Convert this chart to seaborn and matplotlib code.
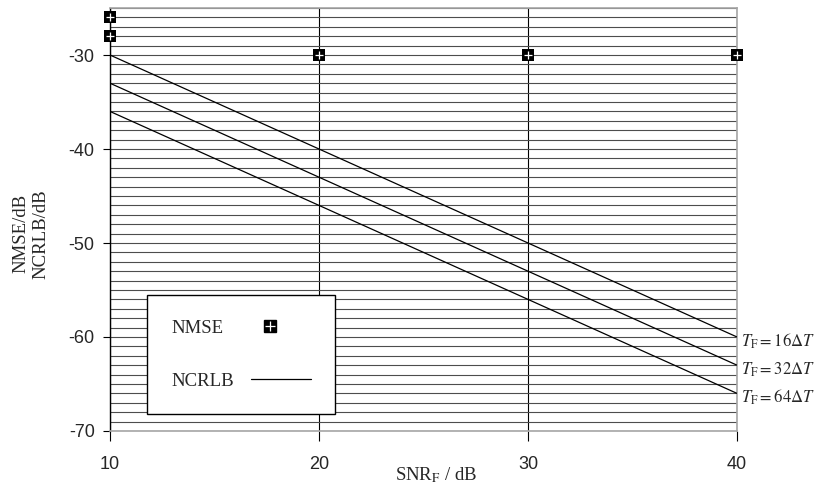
import matplotlib
matplotlib.use("Agg")
import matplotlib.pyplot as plt
import seaborn as sns
import pandas as pd
from matplotlib.lines import Line2D
from matplotlib.legend_handler import HandlerTuple

# SNR axis (dB)
snr_db = [10, 20, 30, 40]
# NCRLB curves for the three frame lengths
ncrlb_16 = [-30, -40, -50, -60]
ncrlb_32 = [-33, -43, -53, -63]
ncrlb_64 = [-36, -46, -56, -66]
frame_labels = [r"$T_{\rm F}=16\Delta T$", r"$T_{\rm F}=32\Delta T$", r"$T_{\rm F}=64\Delta T$"]
# NMSE points
nmse_snr = [10, 10, 20, 30, 40]
nmse_db = [-26, -28, -30, -30, -30]

sns.set_theme(style="ticks")
plt.rcParams["font.family"] = ["Liberation Sans", "DejaVu Sans"]
plt.rcParams["mathtext.fontset"] = "stix"
plt.rcParams["axes.unicode_minus"] = False

serif = ["Liberation Serif", "DejaVu Serif"]

ncrlb_df = pd.DataFrame({
    "snr": snr_db * 3,
    "ncrlb": ncrlb_16 + ncrlb_32 + ncrlb_64,
    "frame": [frame_labels[0]] * 4 + [frame_labels[1]] * 4 + [frame_labels[2]] * 4,
})

fig = plt.figure(figsize=(8.19, 4.86), dpi=100)
ax = fig.add_axes([0.1343, 0.1132, 0.7656, 0.8703])

# grid: every 1 dB horizontally, every 10 dB vertically
ax.set_xlim(10, 40)
ax.set_ylim(-70, -25)
ax.set_xticks(snr_db)
ax.set_yticks(range(-70, -29, 10))
ax.set_yticks(range(-70, -24), minor=True)
ax.grid(axis="y", which="both", color="0.3", lw=0.8)
ax.grid(axis="x", which="major", color="black", lw=0.8)
ax.set_axisbelow(True)

sns.lineplot(data=ncrlb_df, x="snr", y="ncrlb", units="frame", estimator=None,
             color="black", lw=0.9, ax=ax, zorder=3)

sns.scatterplot(x=nmse_snr, y=nmse_db, marker="s", color="black", s=80,
                linewidth=0, clip_on=False, zorder=5, ax=ax)
sns.scatterplot(x=nmse_snr, y=nmse_db, marker="+", color="white", s=36,
                linewidth=0.9, clip_on=False, zorder=6, ax=ax)

# labels at the right end of each NCRLB line
for lab, vals in zip(frame_labels, [ncrlb_16, ncrlb_32, ncrlb_64]):
    ax.text(snr_db[-1] + 0.2, vals[-1] - 0.45, lab, ha="left", va="center",
            fontsize=12, clip_on=False)

# spines
for side in ["top", "right", "bottom"]:
    ax.spines[side].set_color("0.65")
    ax.spines[side].set_linewidth(1.2)
ax.spines["left"].set_color("black")
ax.spines["left"].set_linewidth(1.0)

ax.tick_params(which="minor", length=0)
ax.tick_params(axis="x", which="major", length=7, width=0.8, pad=11, labelsize=13, color="black")
ax.tick_params(axis="y", which="major", length=5, width=0.8, pad=6, labelsize=13, color="black")

ax.set_xlabel(r"SNR$_{\rm F}$ / dB", family=serif, fontsize=13.5)
ax.xaxis.set_label_coords(0.52, -0.082)
ax.set_ylabel("NMSE/dB\nNCRLB/dB", family=serif, fontsize=13.5, linespacing=1.25)
ax.yaxis.set_label_coords(-0.096, 0.466)

# legend: text first, symbol to the right
nmse_handle = (Line2D([], [], marker="s", color="black", ls="none", ms=9),
               Line2D([], [], marker="+", color="white", ls="none", ms=7, mew=0.9))
ncrlb_handle = Line2D([], [], color="black", lw=0.9)
leg = ax.legend([nmse_handle, ncrlb_handle], ["NMSE", "NCRLB"],
                handler_map={tuple: HandlerTuple(ndivide=1, pad=0)},
                markerfirst=False, loc="lower left", bbox_to_anchor=(0.059, 0.040),
                borderaxespad=0, frameon=True, fancybox=False, edgecolor="black",
                framealpha=1, borderpad=1.3, labelspacing=1.9, handlelength=3.2,
                handletextpad=0.9, prop={"family": serif, "size": 13.5})
leg.get_frame().set_linewidth(1.0)
leg.set_zorder(10)
# keep the labels left aligned as in the original figure
leg._legend_handle_box.get_children()[0].align = "left"

fig.savefig("out.png", dpi=100)
plt.close(fig)
